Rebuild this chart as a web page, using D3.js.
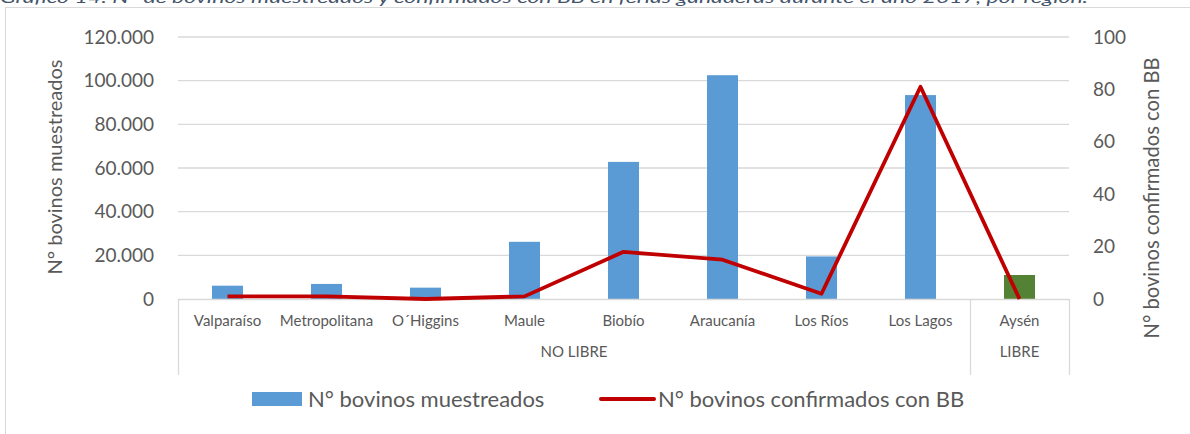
<!DOCTYPE html>
<html>
<head>
<meta charset="utf-8">
<script src="https://cdn.jsdelivr.net/npm/d3@7"></script>
<style>
  body { margin: 0; background: #fff; }
  svg { display: block; font-family: Lato, "Open Sans", sans-serif; }
</style>
</head>
<body>
<svg width="1190" height="434"></svg>
<script>
const regions = ["Valparaíso", "Metropolitana", "O´Higgins", "Maule", "Biobío", "Araucanía", "Los Ríos", "Los Lagos", "Aysén"];
const status = ["NO LIBRE", "NO LIBRE", "NO LIBRE", "NO LIBRE", "NO LIBRE", "NO LIBRE", "NO LIBRE", "NO LIBRE", "LIBRE"];
const sampled = [6100, 6900, 5200, 26200, 62800, 102500, 19500, 93400, 11000];
const confirmed = [1, 1, 0, 1, 18, 15, 2, 81, 0];
const leftTicks = [0, 20000, 40000, 60000, 80000, 100000, 120000];
const rightTicks = [0, 20, 40, 60, 80, 100];

const TITLE = "Gráfico 14: N° de bovinos muestreados y confirmados con BB en ferias ganaderas durante el año 2017, por región.";
const BLUE = '#5b9bd5', GREEN = '#548235', RED = '#c00000';
const GRID = '#d9d9d9', TXT = '#595959';

const svg = d3.select("svg");
const plot = {left: 178, right: 1069, top: 37, bottom: 299};

// caption, cut by the top of the picture as in the source
svg.append("text")
  .attr("x", 0).attr("y", 3)
  .attr("font-size", 16).attr("font-style", "italic")
  .attr("fill", "#44546a")
  .attr("textLength", 1088).attr("lengthAdjust", "spacingAndGlyphs")
  .text(TITLE);

// chart frame
svg.append("rect")
  .attr("x", 5.5).attr("y", 7.5).attr("width", 1200).attr("height", 440)
  .attr("fill", "none").attr("stroke", GRID);

const x = d3.scaleBand().domain(regions).range([plot.left, plot.right]);
const yL = d3.scaleLinear().domain([0, 120000]).range([plot.bottom, plot.top]);
const yR = d3.scaleLinear().domain([0, 100]).range([plot.bottom, plot.top]);
const barW = x.bandwidth() * 0.313;
const fmt = d3.formatLocale({decimal: ",", thousands: ".", grouping: [3], currency: ["$", ""]}).format(",d");

// gridlines
svg.append("g").selectAll("line")
  .data(leftTicks.filter(d => d > 0))
  .join("line")
  .attr("x1", plot.left).attr("x2", plot.right)
  .attr("y1", d => yL(d)).attr("y2", d => yL(d))
  .attr("stroke", GRID).attr("stroke-width", 1.3);

// left axis labels
svg.append("g").selectAll("text")
  .data(leftTicks)
  .join("text")
  .attr("x", 154).attr("y", d => yL(d))
  .attr("dy", "0.35em").attr("text-anchor", "end")
  .attr("font-size", 19).attr("fill", TXT)
  .text(d => fmt(d));

// right axis labels
svg.append("g").selectAll("text")
  .data(rightTicks)
  .join("text")
  .attr("x", 1093).attr("y", d => yR(d))
  .attr("dy", "0.35em")
  .attr("font-size", 19).attr("fill", TXT)
  .text(d => d);

// axis titles
svg.append("text")
  .attr("transform", "translate(62,167) rotate(-90)")
  .attr("text-anchor", "middle")
  .attr("font-size", 20).attr("fill", TXT)
  .text("N° bovinos muestreados");
svg.append("text")
  .attr("transform", "translate(1159,198) rotate(-90)")
  .attr("text-anchor", "middle")
  .attr("font-size", 20.2).attr("fill", TXT)
  .text("N° bovinos confirmados con BB");

// bars
svg.append("g").selectAll("rect")
  .data(regions)
  .join("rect")
  .attr("x", d => x(d) + (x.bandwidth() - barW) / 2)
  .attr("width", barW)
  .attr("y", (d, i) => yL(sampled[i]))
  .attr("height", (d, i) => plot.bottom - yL(sampled[i]))
  .attr("fill", (d, i) => status[i] === "LIBRE" ? GREEN : BLUE);

// category axis with two levels
const groups = d3.groups(regions.map((r, i) => ({r, s: status[i]})), d => d.s);
const cuts = [plot.left];
groups.forEach(([, rows]) => cuts.push(x(rows[rows.length - 1].r) + x.bandwidth()));

svg.append("line")
  .attr("x1", plot.left).attr("x2", plot.right)
  .attr("y1", plot.bottom + 0.5).attr("y2", plot.bottom + 0.5)
  .attr("stroke", GRID).attr("stroke-width", 1.3);
svg.append("g").selectAll("line")
  .data(cuts)
  .join("line")
  .attr("x1", d => Math.round(d) + 0.5).attr("x2", d => Math.round(d) + 0.5)
  .attr("y1", plot.bottom).attr("y2", 375)
  .attr("stroke", GRID).attr("stroke-width", 1.3);

svg.append("g").selectAll("text")
  .data(regions)
  .join("text")
  .attr("x", d => x(d) + x.bandwidth() / 2).attr("y", 321)
  .attr("dy", "0.35em").attr("text-anchor", "middle")
  .attr("font-size", 15).attr("fill", TXT)
  .text(d => d);

svg.append("g").selectAll("text")
  .data(groups)
  .join("text")
  .attr("x", ([, rows]) => (x(rows[0].r) + x(rows[rows.length - 1].r) + x.bandwidth()) / 2)
  .attr("y", 352)
  .attr("dy", "0.35em").attr("text-anchor", "middle")
  .attr("font-size", 15).attr("fill", TXT)
  .text(([k]) => k);

// confirmed line
const line = d3.line()
  .x(d => x(d.r) + x.bandwidth() / 2)
  .y(d => yR(d.v));
svg.append("path")
  .datum(regions.map((r, i) => ({r, v: confirmed[i]})))
  .attr("d", line)
  .attr("fill", "none").attr("stroke", RED)
  .attr("stroke-width", 3.8).attr("stroke-linejoin", "round");

// legend
const lg = svg.append("g");
lg.append("rect")
  .attr("x", 252).attr("y", 392).attr("width", 50).attr("height", 14)
  .attr("fill", BLUE);
lg.append("text")
  .attr("x", 308).attr("y", 399).attr("dy", "0.35em")
  .attr("font-size", 22).attr("fill", TXT)
  .text("N° bovinos muestreados");
lg.append("line")
  .attr("x1", 601).attr("x2", 654).attr("y1", 399).attr("y2", 399)
  .attr("stroke", RED).attr("stroke-width", 4).attr("stroke-linecap", "round");
lg.append("text")
  .attr("x", 658).attr("y", 399).attr("dy", "0.35em")
  .attr("font-size", 22).attr("fill", TXT)
  .text("N° bovinos confirmados con BB");
</script>
</body>
</html>
